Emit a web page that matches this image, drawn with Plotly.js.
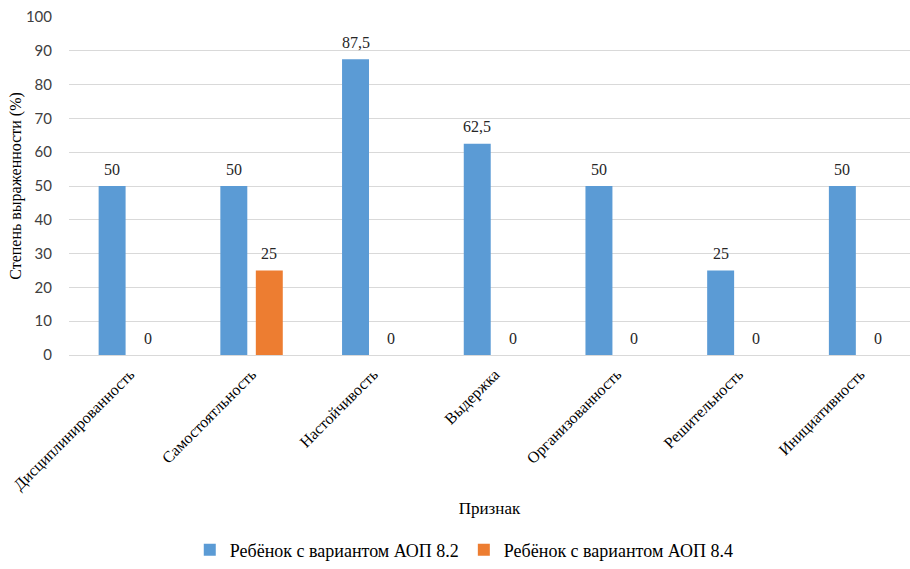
<!DOCTYPE html>
<html>
<head>
<meta charset="utf-8">
<script src="https://cdn.plot.ly/plotly-3.0.1.min.js"></script>
<style>html,body{margin:0;padding:0;background:#fff;}#chart{width:910px;height:569px;}</style>
</head>
<body>
<div id="chart"></div>
<script>
const categories = ["Дисциплинированность","Самостоятльность","Настойчивость","Выдержка","Организованность","Решительность","Инициативность"];
const series82 = [50, 50, 87.5, 62.5, 50, 25, 50];
const series84 = [0, 25, 0, 0, 0, 0, 0];
const name82 = "Ребёнок с вариантом АОП 8.2";
const name84 = "Ребёнок с вариантом АОП 8.4";
const yTicks = [0,10,20,30,40,50,60,70,80,90,100];

const SANS = "Lato";
const SERIF = "Liberation Serif";
const labelFont = {family: SERIF, size: 16, color: "#262626"};
const fmt = v => String(v).replace('.', ',');

const colors = ["#5B9BD5", "#ED7D31"];
const allSeries = [series82, series84];
const names = [name82, name84];

const traces = allSeries.map((vals, s) => ({
  type: "bar", x: categories, y: vals, name: names[s],
  marker: {color: colors[s]}, hoverinfo: "x+y"
}));

// plot geometry (for label offsets within each category group)
const plotLeft = 69, plotRight = 910;
const xRange = [-0.5, 6.41];
const catPx = (plotRight - plotLeft) / (xRange[1] - xRange[0]);
const bargap = 0.417, bargroupgap = 0.24;
const slotPx = catPx * (1 - bargap) / allSeries.length;

const annotations = [];
allSeries.forEach((vals, s) => {
  vals.forEach((v, i) => {
    annotations.push({
      x: categories[i], y: v, xref: "x", yref: "y",
      xshift: (s - (allSeries.length - 1) / 2) * slotPx,
      yshift: 17, yanchor: "middle", xanchor: "center",
      text: fmt(v), showarrow: false, font: labelFont
    });
  });
});

const layout = {
  width: 910, height: 569,
  margin: {l: plotLeft, r: 0, t: 17, b: 214},
  paper_bgcolor: "#fff", plot_bgcolor: "#fff",
  barmode: "group", bargap: bargap, bargroupgap: bargroupgap,
  showlegend: true,
  legend: {orientation: "h", x: 0.47, xanchor: "center", y: -0.632, yanchor: "bottom",
           font: {family: SERIF, size: 18, color: "#000"}, itemwidth: 30, traceorder: "normal"},
  annotations: annotations,
  xaxis: {
    type: "category", range: xRange, tickangle: -45,
    tickfont: {family: SERIF, size: 16, color: "#000"},
    showgrid: false, zeroline: false, showline: false, ticks: "", ticklabelstandoff: 6,
    title: {text: "Признак", font: {family: SERIF, size: 17, color: "#000"}, standoff: 9},
    automargin: false
  },
  yaxis: {
    range: [0, 100], tickvals: yTicks, ticktext: yTicks.map(String),
    tickfont: {family: SANS, size: 15, color: "#404040"},
    gridcolor: "#d9d9d9", gridwidth: 1, zeroline: true, zerolinecolor: "#d9d9d9", zerolinewidth: 1,
    showline: false, ticks: "", ticklabelstandoff: 16,
    title: {text: "Степень выраженности (%)", font: {family: SERIF, size: 16, color: "#000"}, standoff: 0},
    automargin: false
  }
};

Plotly.newPlot("chart", traces, layout, {displayModeBar: false, staticPlot: true});
</script>
</body>
</html>
